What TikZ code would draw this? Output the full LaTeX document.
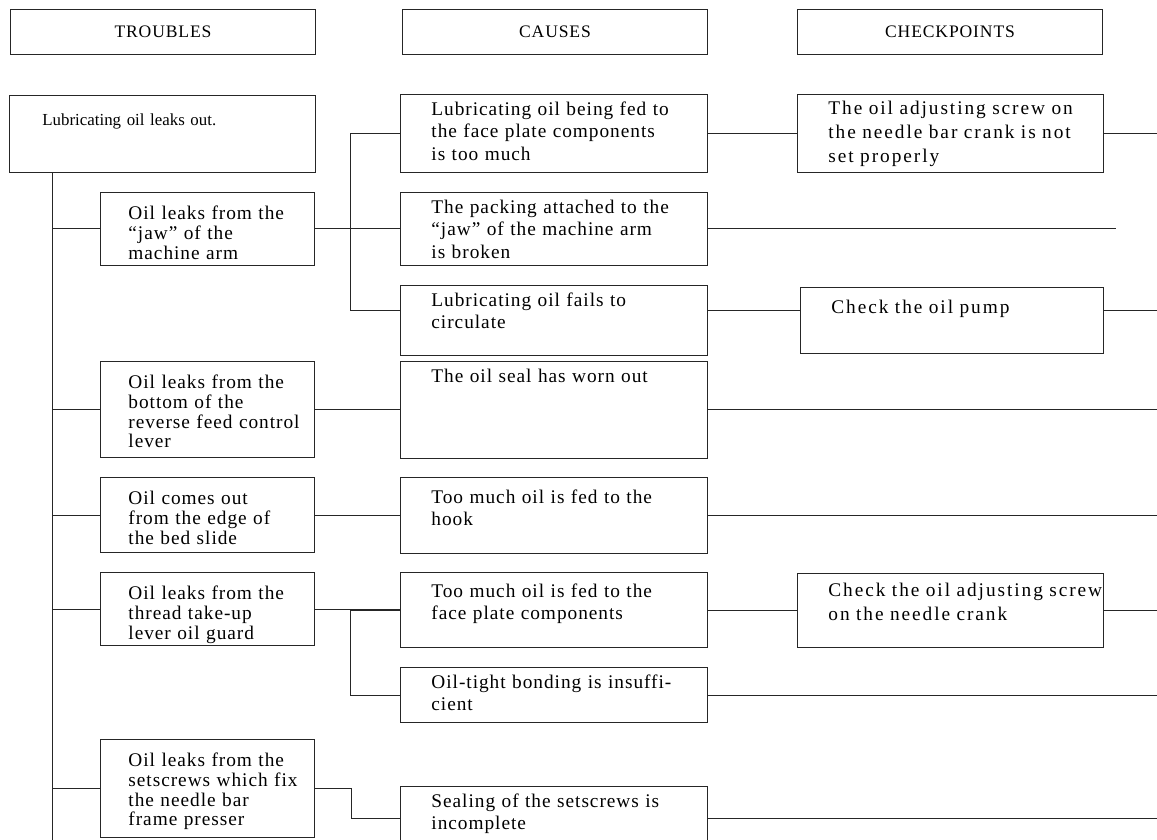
\documentclass[tikz,border=0pt]{standalone}
\usepackage{fontspec}
\setmainfont{Liberation Serif}[LetterSpace=5]
\begin{document}
\begin{tikzpicture}[
      x=0.02cm, y=-0.02cm,
      link/.style={draw=black!85, line width=0.5pt},
      headbox/.style={link, minimum width=6.1cm, minimum height=0.9cm, inner sep=0pt},
      box/.style={link, anchor=north west, inner sep=0pt, align=left},
      trouble/.style={box, text width=4.28cm, text height=0.55cm,
        font=\fontsize{11}{11.2}\selectfont,
        execute at begin node=\setlength{\leftskip}{0.56cm}},
      cause/.style={box, text width=6.14cm, text height=0.42cm,
        font=\fontsize{11}{12.8}\selectfont,
        execute at begin node=\setlength{\leftskip}{0.62cm}},
      check/.style={box, text width=6.12cm, text height=0.4cm,
        font=\fontsize{11}{13.6}\selectfont\addfontfeature{LetterSpace=10},
        execute at begin node=\setlength{\leftskip}{0.62cm}}
    ]
    \clip (0,0) rectangle (1157,839);

    % column heads
    \node[headbox] (hT) at (163,32) {TROUBLES};
    \node[headbox] (hC) at (555,32) {CAUSES};
    \node[headbox] (hK) at (950,32) {CHECKPOINTS};

    % troubles
    \node[trouble, text width=6.12cm, text height=0.6cm, text depth=0.94cm,
      font=\fontsize{9.6}{11.2}\selectfont\addfontfeature{LetterSpace=0},
      execute at begin node=\setlength{\leftskip}{0.66cm}] (t0) at (9,95)
      {Lubricating oil leaks out.};
    \node[trouble, text depth=0.91cm] (t1) at (100,192)
      {Oil leaks from the\\``jaw'' of the\\machine arm};
    \node[trouble, text depth=1.37cm] (t2) at (100,361)
      {Oil leaks from the\\bottom of the\\reverse feed control\\lever};
    \node[trouble, text depth=0.95cm] (t3) at (100,477)
      {Oil comes out\\from the edge of\\the bed slide};
    \node[trouble, text depth=0.91cm] (t4) at (100,572)
      {Oil leaks from the\\thread take-up\\lever oil guard};
    \node[trouble, text depth=1.41cm] (t5) at (100,739)
      {Oil leaks from the\\setscrews which fix\\the needle bar\\frame presser};

    % causes
    \node[cause, text depth=1.14cm] (c1) at (400,94)
      {Lubricating oil being fed to\\the face plate components\\is too much};
    \node[cause, text depth=1.04cm] (c2) at (400,192)
      {The packing attached to the\\``jaw'' of the machine arm\\is broken};
    \node[cause, text depth=0.98cm] (c3) at (400,285)
      {Lubricating oil fails to\\circulate};
    \node[cause, text depth=1.52cm] (c4) at (400,361)
      {The oil seal has worn out};
    \node[cause, text height=0.52cm, text depth=1.0cm] (c5) at (400,477)
      {Too much oil is fed to the\\hook};
    \node[cause, text height=0.5cm, text depth=1.0cm] (c6) at (400,572)
      {Too much oil is fed to the\\face plate components};
    \node[cause, text depth=0.68cm] (c7) at (400,667)
      {Oil-tight bonding is insuffi-\\cient};
    \node[cause, text depth=0.86cm] (c8) at (400,786)
      {Sealing of the setscrews is\\incomplete};

    % checkpoints
    \node[check, text depth=1.16cm] (k1) at (797,94)
      {The oil adjusting screw on\\the needle bar crank is not\\set properly};
    \node[check, text width=6.06cm, text height=0.52cm, text depth=0.8cm] (k2) at (800,287)
      {Check the oil pump};
    \node[check, text height=0.46cm, text depth=1.02cm] (k3) at (797,573)
      {Check the oil adjusting screw\\on the needle crank};

    \coordinate (trunk) at (52,850);
    \coordinate (rim) at (1157,0);

    % trunk and branches
    \draw[link] (t0.south -| trunk) -- (trunk);
    \foreach \t in {t1,t2,t3,t4,t5} {
      \draw[link] (\t.west) -- (\t.west -| trunk);
    }

    % troubles to causes
    \draw[link] (t1.east) -- (t1.east -| c2.west);
    \draw[link] (c1.west) -- ++(-50,0) |- ([yshift=0.2cm]c3.west);
    \draw[link] (t2.east) -- (t2.east -| c4.west);
    \draw[link] (t3.east) -- (t3.east -| c5.west);
    \draw[link] (t4.east) -- (t4.east -| c6.west);
    \draw[link] (c6.west) -- ++(-50,0) |- (c7.west);
    \draw[link] (t5.east) -- ++(37,0) |- (c8.west);

    % causes to checkpoints
    \draw[link] (c1.east) -- (k1.west);
    \draw[link] ([yshift=0.2cm]c3.east) -- ([yshift=0.2cm]k2.west);
    \draw[link] (c6.east) -- (c6.east -| k3.west);

    % run-outs to the right
    \foreach \n in {k1,c4,c5,k3,c7,c8} {
      \draw[link] (\n.east) -- (\n.east -| rim);
    }
    \draw[link] ([yshift=0.2cm]k2.east) -- ([yshift=0.2cm]k2.east -| rim);
    \draw[link] (c2.east) -- ++(408,0);
  \end{tikzpicture}
\end{document}
